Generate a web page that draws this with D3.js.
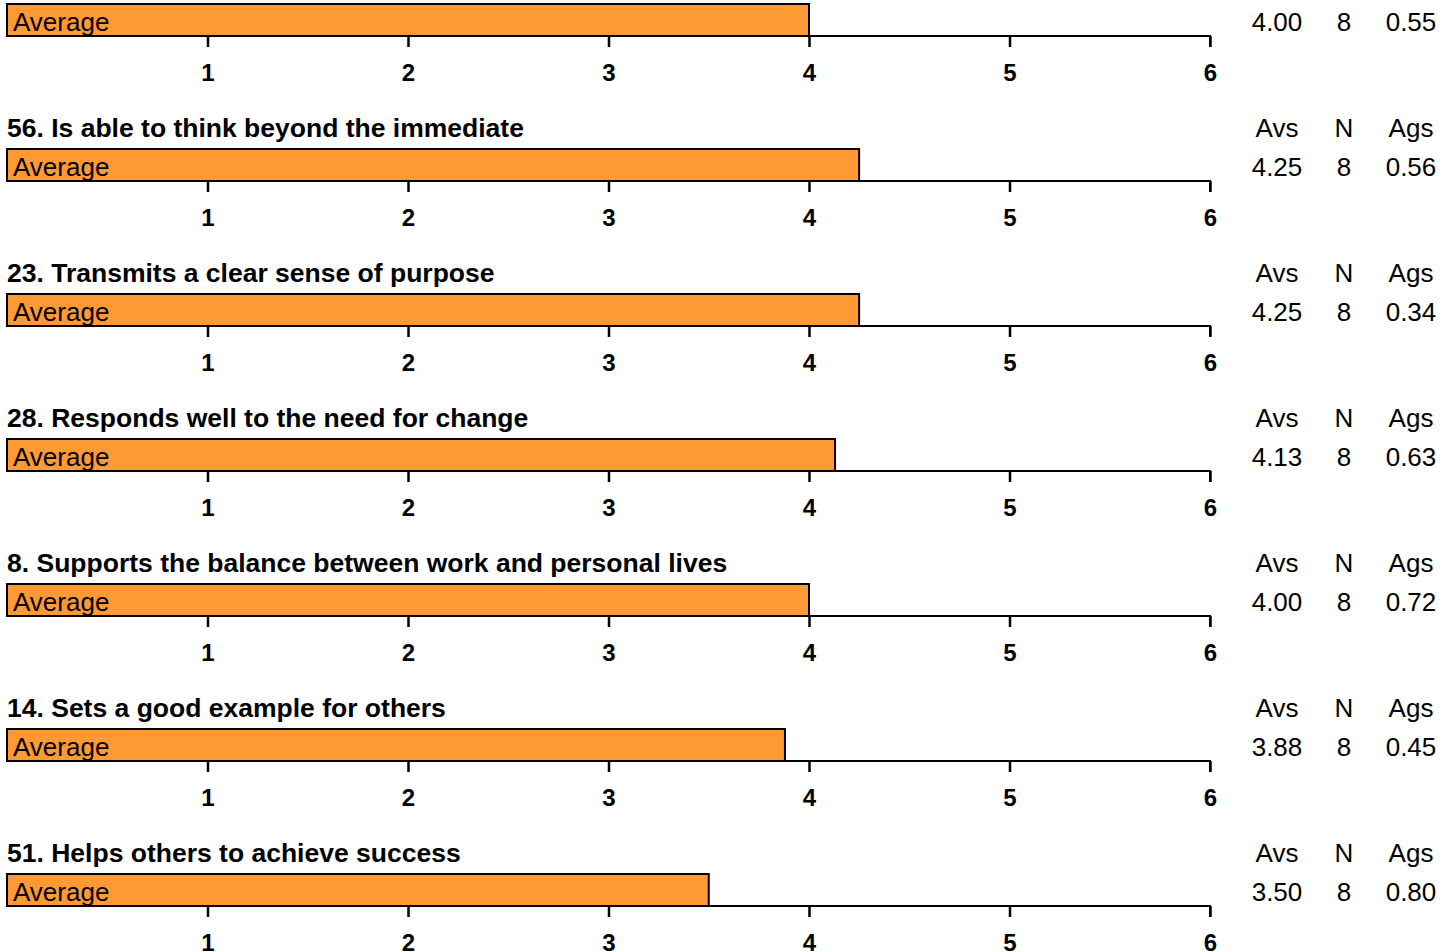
<!DOCTYPE html>
<html>
<head>
<meta charset="utf-8">
<title>Item averages</title>
<script src="https://d3js.org/d3.v7.min.js"></script>
<style>
    html, body { margin: 0; padding: 0; background: #fff; overflow: hidden; }
    svg { display: block; font-family: "Liberation Sans", Arial, sans-serif; }
    .title { font-weight: bold; font-size: 26.5px; }
    .tick text { font-weight: bold; font-size: 24px; }
    .stat { font-size: 26px; text-anchor: middle; }
</style>
</head>
<body>
<svg id="chart" width="1456" height="952"></svg>
<script>
    // first panel's title is above the visible area
    const titles = [
        null,
        '56. Is able to think beyond the immediate',
        '23. Transmits a clear sense of purpose',
        '28. Responds well to the need for change',
        '8. Supports the balance between work and personal lives',
        '14. Sets a good example for others',
        '51. Helps others to achieve success'
    ];
    const averages = [4.00, 4.25, 4.25, 4.13, 4.00, 3.88, 3.50];
    const counts = [8, 8, 8, 8, 8, 8, 8];
    const agreement = [0.55, 0.56, 0.34, 0.63, 0.72, 0.45, 0.80];
    const tickValues = [1, 2, 3, 4, 5, 6];
    const statHeaders = ['Avs', 'N', 'Ags'];

    const panelStep = 145;
    const barTop = 4;
    const barHeight = 32;
    const statX = [1277, 1344, 1411];

    const svg = d3.select('#chart');
    const x = d3.scaleLinear().domain([0, 6]).range([7, 1210]);

    const panels = titles.map((title, i) => ({
        title, avg: averages[i], n: counts[i], ags: agreement[i]
    }));

    const g = svg.selectAll('g.panel')
        .data(panels)
        .join('g')
        .attr('class', 'panel')
        .attr('transform', (d, i) => `translate(0 ${barTop + i * panelStep})`);

    // axis
    const axis = d3.axisBottom(x)
        .tickValues(tickValues)
        .tickFormat(d3.format('d'))
        .tickSize(11)
        .tickSizeOuter(0)
        .tickPadding(22);

    g.append('g')
        .attr('transform', `translate(0 ${barHeight})`)
        .each(function() {
            d3.select(this).call(axis);
        })
        .call(s => s.selectAll('.domain').attr('stroke', '#000').attr('stroke-width', 2)
            .attr('d', `M${x(0)},0H${x(6)}V11`))
        .call(s => s.selectAll('.tick line').attr('stroke', '#000').attr('stroke-width', 2.5))
        .call(s => s.selectAll('.tick text').attr('fill', '#000').attr('dy', '0.5em'))
        .attr('font-family', null)
        .attr('font-size', null);

    // bar
    g.append('rect')
        .attr('x', x(0))
        .attr('y', 0)
        .attr('width', d => x(d.avg) - x(0))
        .attr('height', barHeight)
        .attr('fill', '#ff9933')
        .attr('stroke', '#000')
        .attr('stroke-width', 2);

    g.append('text')
        .attr('x', 13)
        .attr('y', 27)
        .attr('font-size', 26)
        .text('Average');

    // title
    g.filter(d => d.title)
        .append('text')
        .attr('class', 'title')
        .attr('x', 7)
        .attr('y', -12)
        .text(d => d.title);

    // stats header
    g.filter(d => d.title)
        .selectAll('text.head')
        .data(statHeaders)
        .join('text')
        .attr('class', 'stat head')
        .attr('x', (d, i) => statX[i])
        .attr('y', -12)
        .text(d => d);

    g.selectAll('text.val')
        .data(d => [d.avg.toFixed(2), String(d.n), d.ags.toFixed(2)])
        .join('text')
        .attr('class', 'stat val')
        .attr('x', (d, i) => statX[i])
        .attr('y', 27)
        .text(d => d);
</script>
</body>
</html>
